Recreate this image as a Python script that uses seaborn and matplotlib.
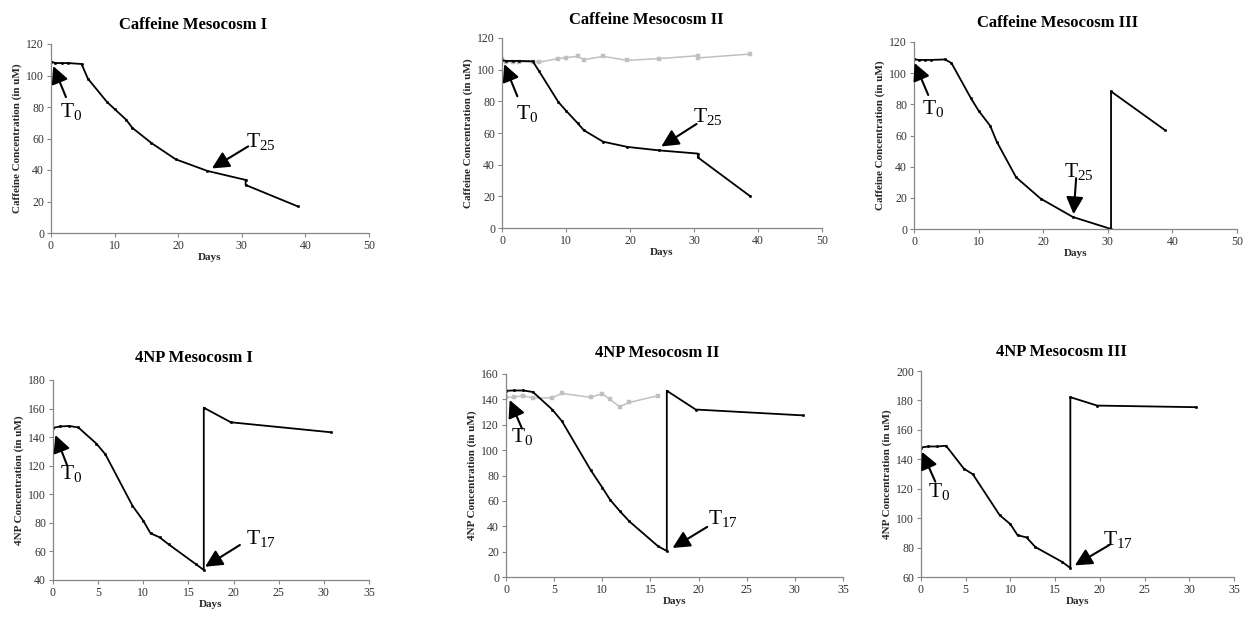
import matplotlib
matplotlib.use('Agg')
import matplotlib.pyplot as plt
import seaborn as sns
import pandas as pd

# ---------------- data ----------------
caf_days = [0, 0.7, 1.7, 2.7, 4.8, 5.8, 8.8, 10, 11.8, 12.8, 15.8, 19.6, 24.6, 30.6, 30.6, 38.8]
caf1_conc = [108.8, 107.9, 107.9, 107.9, 107.3, 98, 83.2, 78.7, 72, 66.7, 57.1, 46.8, 39.4, 33.7, 30.5, 16.9]
caf2_conc = [105.9, 105.5, 105.5, 105.5, 105.3, 99, 79.6, 74.1, 66.3, 61.7, 54.5, 51.2, 49, 47, 44.6, 20]
caf2_ctrl = [106.5, 105, 104.8, 105, 104.8, 104.8, 107, 107.6, 108.4, 106.3, 108.4, 105.9, 107, 108.8, 107.4, 109.9]
caf3_days = [0, 0.7, 1.7, 2.7, 4.8, 5.8, 8.8, 10, 11.8, 12.8, 15.8, 19.6, 24.6, 30.5, 30.5, 38.8]
caf3_conc = [109, 108.5, 108.5, 108.5, 108.8, 106.5, 84, 75.9, 66.2, 56.1, 33.2, 19.5, 7.7, 0, 88.3, 63.6]

np_days = [0, 0.8, 1.8, 2.8, 4.8, 5.8, 8.8, 10, 10.8, 11.8, 12.8, 15.8, 16.7, 16.7, 19.7, 30.8]
np1_conc = [146.5, 147.5, 147.8, 146.8, 135.5, 128, 92, 81.5, 72.7, 69.9, 65, 51.2, 47, 160.6, 150.4, 143.4]
np2_conc = [146.8, 147, 147, 145.8, 132, 122.9, 84.2, 70.5, 61, 52.1, 43.9, 24.2, 20.5, 146.8, 132, 127.4]
np2_ctrl_days = [0, 0.8, 1.8, 2.8, 4.8, 5.8, 8.8, 10, 10.8, 11.8, 12.8, 15.8]
np2_ctrl = [141.6, 141.8, 142.9, 141, 141.3, 144.7, 141.6, 144.5, 140, 134.2, 137.6, 142.9]
np3_conc = [148, 148.7, 148.7, 149.2, 133.6, 129.8, 102, 95.9, 88.4, 86.9, 80.3, 70.2, 66.1, 182.2, 176.5, 175.4]

titles = ["Caffeine Mesocosm I", "Caffeine Mesocosm II", "Caffeine Mesocosm III",
          "4NP Mesocosm I", "4NP Mesocosm II", "4NP Mesocosm III"]
caf_ylabel = "Caffeine Concentration (in uM)"
np_ylabel = "4NP Concentration (in uM)"

# ---------------- style ----------------
sns.set_theme(style='white')
plt.rcParams['font.family'] = ['Liberation Serif', 'DejaVu Serif']
plt.rcParams['mathtext.fontset'] = 'custom'
plt.rcParams['mathtext.rm'] = 'Liberation Serif'
plt.rcParams['mathtext.it'] = 'Liberation Serif'

W, H = 1243, 618
fig = plt.figure(figsize=(W / 100, H / 100), dpi=100)

def px_axes(x0, x1, ytop, ybot):
    return fig.add_axes([x0 / W, 1 - ybot / H, (x1 - x0) / W, (ybot - ytop) / H])

# axes boxes in pixel coordinates
boxes = [(51, 369, 44, 233), (502, 822, 38, 228), (914, 1237, 42, 229),
         (53, 369, 380, 580), (506, 843, 374, 577), (921, 1234, 371, 577)]
title_pos = [(193, 25), (646, 20), (1058, 23), (194, 358), (657, 353), (1061, 352)]

black = '#000000'
gray = '#c0c0c0'
axcol = '#868686'

def style_axis(ax, xlim, xticks, ylim, yticks, ylabel):
    ax.set_xlim(*xlim)
    ax.set_ylim(*ylim)
    ax.set_xticks(xticks)
    ax.set_yticks(yticks)
    for s in ['top', 'right']:
        ax.spines[s].set_visible(False)
    for s in ['left', 'bottom']:
        ax.spines[s].set_color(axcol)
        ax.spines[s].set_linewidth(0.9)
    ax.tick_params(axis='both', direction='out', length=3, width=0.8, color=axcol,
                   labelsize=8.5, labelcolor='#333333', pad=2, left=True, bottom=True)
    ax.set_xlabel("Days", fontsize=8, fontweight='bold', labelpad=1)
    ax.set_ylabel(ylabel, fontsize=8, fontweight='bold', labelpad=3)
    ax.grid(False)

def draw(ax, x, y, color, marker, ms, lw):
    df = pd.DataFrame({'Days': x, 'Conc': y})
    sns.lineplot(data=df, x='Days', y='Conc', sort=False, estimator=None, ax=ax,
                 color=color, marker=marker, markersize=ms, linewidth=lw,
                 markeredgecolor=color, markeredgewidth=0.3)

def label(ax, name, sub, head, tail, txt):
    ax.annotate('', xy=head, xytext=tail,
                arrowprops=dict(arrowstyle='-|>,head_length=0.8,head_width=0.4',
                                mutation_scale=13, color='black', lw=1.5,
                                shrinkA=0, shrinkB=0))
    ax.text(txt[0], txt[1], name + r'$_{\mathrm{' + sub + '}}$', fontsize=15.5,
            ha='left', va='center', color='black')

axes = [px_axes(*b) for b in boxes]

# Caffeine I
ax = axes[0]
draw(ax, caf_days, caf1_conc, black, 'o', 1.8, 1.3)
style_axis(ax, (0, 50), range(0, 51, 10), (0, 120), range(0, 121, 20), caf_ylabel)
label(ax, 'T', '0', (0.35, 106), (2.35, 86.3), (1.4, 77))
label(ax, 'T', '25', (25.3, 41), (31, 55), (30.7, 58))

# Caffeine II
ax = axes[1]
draw(ax, caf_days, caf2_ctrl, gray, 's', 3, 1.1)
draw(ax, caf_days, caf2_conc, black, 'o', 1.8, 1.3)
style_axis(ax, (0, 50), range(0, 51, 10), (0, 120), range(0, 121, 20), caf_ylabel)
label(ax, 'T', '0', (0.35, 103.5), (2.4, 83.2), (2.25, 72.6))
label(ax, 'T', '25', (24.9, 51.5), (30.4, 65.7), (29.8, 70.5))

# Caffeine III
ax = axes[2]
draw(ax, caf3_days, caf3_conc, black, 'o', 1.8, 1.3)
style_axis(ax, (0, 50), range(0, 51, 10), (0, 120), range(0, 121, 20), caf_ylabel)
label(ax, 'T', '0', (0.1, 106.5), (2.2, 86), (1.25, 77.6))
label(ax, 'T', '25', (24.7, 9.5), (25.1, 32.6), (23.2, 36.9))

# 4NP I
ax = axes[3]
draw(ax, np_days, np1_conc, black, 'o', 1.8, 1.3)
style_axis(ax, (0, 35), range(0, 36, 5), (40, 180), range(40, 181, 20), np_ylabel)
label(ax, 'T', '0', (0.26, 141.5), (1.55, 120.5), (0.8, 114.7))
label(ax, 'T', '17', (16.85, 49.3), (20.7, 64.5), (21.4, 69.2))

# 4NP II
ax = axes[4]
draw(ax, np2_ctrl_days, np2_ctrl, gray, 's', 3, 1.1)
draw(ax, np_days, np2_conc, black, 'o', 1.8, 1.3)
style_axis(ax, (0, 35), range(0, 36, 5), (0, 160), range(0, 161, 20), np_ylabel)
label(ax, 'T', '0', (0.38, 139.5), (1.66, 117), (0.5, 110.5))
label(ax, 'T', '17', (17.3, 22.9), (20.9, 39.5), (21.0, 46))

# 4NP III
ax = axes[5]
draw(ax, np_days, np3_conc, black, 'o', 1.8, 1.3)
style_axis(ax, (0, 35), range(0, 36, 5), (60, 200), range(60, 201, 20), np_ylabel)
label(ax, 'T', '0', (0.1, 145.1), (1.6, 124.8), (0.75, 118))
label(ax, 'T', '17', (17.2, 67.9), (21.1, 81.9), (20.4, 85.3))

for t, (tx, ty) in zip(titles, title_pos):
    fig.text(tx / W, 1 - ty / H, t, ha='center', va='center', fontsize=12,
             fontweight='bold', color='black')

fig.savefig('out.png', dpi=100)
